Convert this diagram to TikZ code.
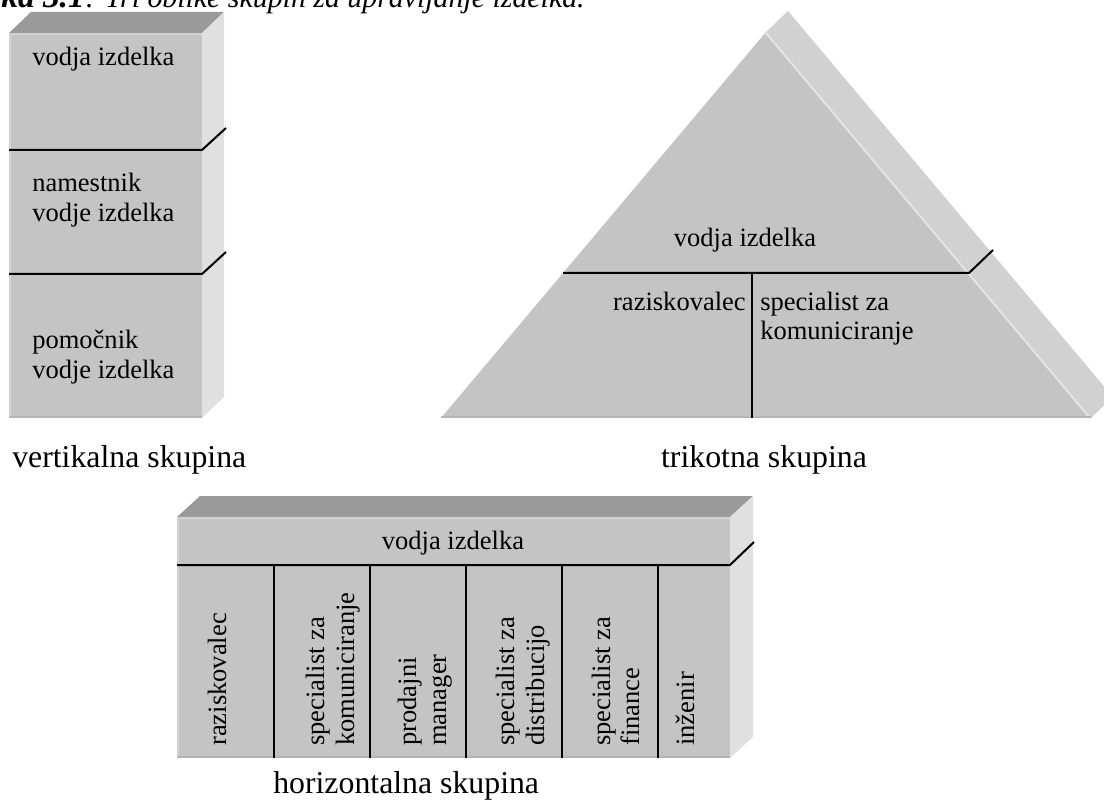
\documentclass[tikz,border=0pt]{standalone}
\usepackage{fontspec}
\setmainfont{Liberation Serif}
\definecolor{frontc}{HTML}{C4C4C4}
\definecolor{topc}{HTML}{9A9A9A}
\definecolor{sidec}{HTML}{E0E0E0}
\definecolor{triside}{HTML}{D1D1D1}
\definecolor{rimlight}{HTML}{D2D2D2}
\definecolor{rimedge}{HTML}{E4E4E4}
\definecolor{rimdark}{HTML}{B4B4B4}
\begin{document}
\begin{tikzpicture}[x=0.75pt,y=-0.75pt,
  sepline/.style={line width=1.5pt, draw=black},
  boxtxt/.style={inner sep=0pt, font=\fontsize{19.9}{23.9}\selectfont},
  labeltxt/.style={inner sep=0pt, font=\fontsize{23.85}{28}\selectfont},
  titletxt/.style={inner sep=0pt, font=\fontsize{22.4}{27}\selectfont},
  coltxt/.style={boxtxt, rotate=90, anchor=base west},
  lightrim/.style={draw=rimlight, line width=1.5pt},
  darkrim/.style={draw=rimdark, line width=1.5pt}]
\useasboundingbox (0,0) rectangle (1104,802);
\clip (0,0) rectangle (1104,802);

% title (cut off at the top edge, as in the reference)
\node[titletxt, anchor=base east, font=\fontsize{25}{27}\selectfont] (titlea) at (85,7.5)
  {\textbf{\textit{ka 3.1}}};
\node[titletxt, anchor=base west] (titleb) at (titlea.base east)
  {\textit{: Tri oblike skupin za upravljanje izdelka.}};

% ---------- vertical group ----------
\fill[topc] (9,33) -- (31,12) -- (224,12) -- (202,33) -- cycle;
\fill[sidec] (202,33) -- (224,12) -- (224,397) -- (202,418) -- cycle;
\fill[frontc] (9,33) rectangle (202,418);
\draw[lightrim] (9.75,417) -- (9.75,33.75) -- (202,33.75);
\draw[darkrim] (9,417.25) -- (202,417.25);
\draw[sepline] (9,150) -- (202,150) -- (226,128);
\draw[sepline] (9,274) -- (202,274) -- (226,252);
\node[boxtxt, anchor=base west] (v1) at (32,66) {vodja izdelka};
\node[boxtxt, anchor=base west] (v2a) at (32,192) {namestnik};
\node[boxtxt, anchor=base west] (v2b) at (32,222) {vodje izdelka};
\node[boxtxt, anchor=base west] (v3a) at (32,349) {pomočnik};
\node[boxtxt, anchor=base west] (v3b) at (32,379) {vodje izdelka};
\node[labeltxt, anchor=base west] (vlab) at (12,468) {vertikalna skupina};

% ---------- triangle group ----------
\fill[triside] (788,11) -- (766,32) -- (1091,418) -- (1113,397) -- cycle;
\fill[frontc] (766,32) -- (441,418) -- (1091,418) -- cycle;
\draw[draw=rimedge, line width=1.5pt] (766,33) -- (1090,418);
\draw[darkrim] (441,417.25) -- (1091,417.25);
\draw[sepline] (563,273) -- (969,273) -- (993,250);
\draw[sepline] (752,273) -- (752,418);
\node[boxtxt, anchor=base] (t1) at (745,247) {vodja izdelka};
\node[boxtxt, anchor=base east] (t2) at (746,311) {raziskovalec};
\node[boxtxt, anchor=base west] (t3a) at (760,311) {specialist za};
\node[boxtxt, anchor=base west] (t3b) at (760,340) {komuniciranje};
\node[labeltxt, anchor=base] (tlab) at (764,468) {trikotna skupina};

% ---------- horizontal group ----------
\fill[topc] (177,517) -- (200,496) -- (753,496) -- (730,517) -- cycle;
\fill[sidec] (730,517) -- (753,496) -- (753,737) -- (730,758) -- cycle;
\fill[frontc] (177,517) rectangle (730,758);
\draw[lightrim] (177.75,757) -- (177.75,517.75) -- (730,517.75);
\draw[darkrim] (177,757.25) -- (730,757.25);
\draw[sepline] (177,565) -- (730,565) -- (754,542);
\foreach \cx in {274,370,466,562,658} \draw[sepline] (\cx,565) -- (\cx,758);
\node[boxtxt, anchor=base] (h0) at (453,549) {vodja izdelka};
\node[coltxt] (h1) at (226,746) {raziskovalec};
\node[coltxt] (h2a) at (324,746) {specialist za};
\node[coltxt] (h2b) at (354,746) {komuniciranje};
\node[coltxt] (h3a) at (416,746) {prodajni};
\node[coltxt] (h3b) at (446,746) {manager};
\node[coltxt] (h4a) at (514,746) {specialist za};
\node[coltxt] (h4b) at (544,746) {distribucijo};
\node[coltxt] (h5a) at (610,746) {specialist za};
\node[coltxt] (h5b) at (639,746) {finance};
\node[coltxt] (h6) at (694,746) {inženir};
\node[labeltxt, anchor=base west] (hlab) at (273,793) {horizontalna skupina};
\end{tikzpicture}
\end{document}
